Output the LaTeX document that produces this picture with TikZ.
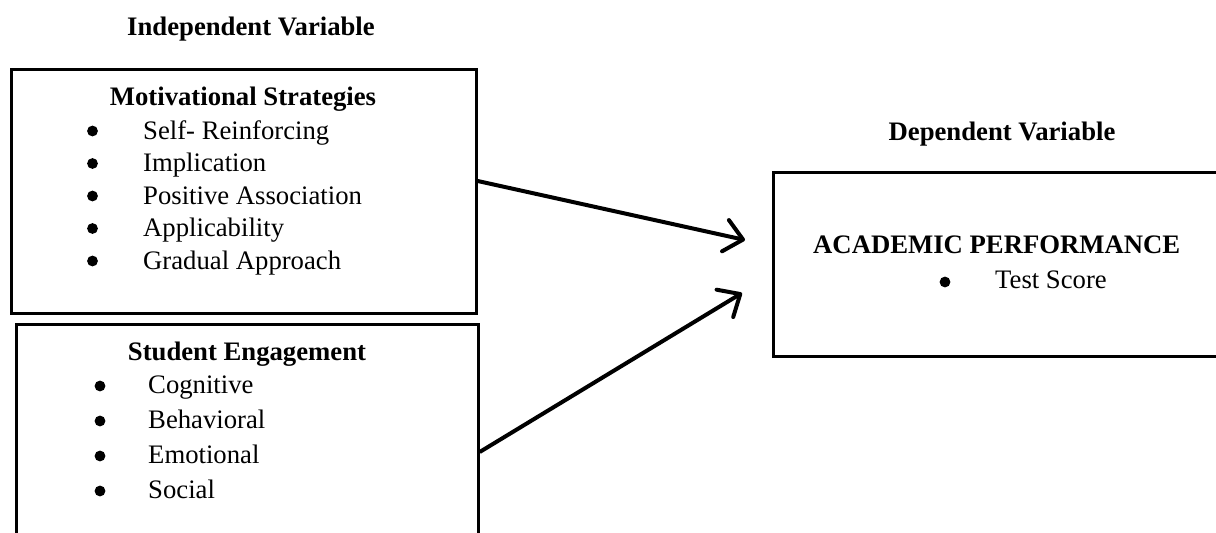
\documentclass[tikz,border=0pt]{standalone}
\usepackage{fontspec}
\setmainfont{Liberation Serif}
\usetikzlibrary{arrows.meta}
\tikzset{
  box/.style={draw, line width=2.7pt, rectangle, anchor=north west, inner sep=0pt},
  txt/.style={inner sep=0pt, font=\fontsize{26.7}{32}\selectfont},
  head/.style={txt, font=\fontsize{26.7}{32}\selectfont\bfseries, anchor=base},
  item/.style={txt, anchor=base west},
  dot/.style={circle, fill=black, inner sep=0pt, minimum size=10.8pt},
  conn/.style={line width=4pt, -{Straight Barb[length=18pt,width=32pt,line cap=round,line join=round]}}
}
\begin{document}
\begin{tikzpicture}[x=1pt,y=-1pt]
\useasboundingbox (0,0) rectangle (1216,533);
% boxes
\node[box, minimum width=465pt, minimum height=244pt] (m) at (10,68) {};
\node[box, minimum width=462pt, minimum height=250pt] (s) at (15,323) {};
\node[box, minimum width=470pt, minimum height=184pt] (d) at (772,171) {};
% titles
\node[head] (iv) at (251,35) {Independent Variable};
\node[head] (dv) at (1002,140) {Dependent Variable};
% motivational strategies
\node[head] (mh) at (243,105) {Motivational Strategies};
\node[dot] (mb1) at (92.5,131) {};
\node[item] (m1) at (143,139) {Self- Reinforcing};
\node[dot] (mb2) at (92.5,163.5) {};
\node[item] (m2) at (143,171.5) {Implication};
\node[dot] (mb3) at (92.5,196) {};
\node[item] (m3) at (143,204) {Positive Association};
\node[dot] (mb4) at (92.5,228.5) {};
\node[item] (m4) at (143,236.5) {Applicability};
\node[dot] (mb5) at (92.5,261) {};
\node[item] (m5) at (143,269) {Gradual Approach};
% student engagement
\node[head] (sh) at (247,360) {Student Engagement};
\node[dot] (sb1) at (100,386) {};
\node[item] (s1) at (148,393) {Cognitive};
\node[dot] (sb2) at (100,421) {};
\node[item] (s2) at (148,428) {Behavioral};
\node[dot] (sb3) at (100,456) {};
\node[item] (s3) at (148,463) {Emotional};
\node[dot] (sb4) at (100,491) {};
\node[item] (s4) at (148,498) {Social};
% academic performance
\node[head, anchor=base west] (ap) at (813,253) {ACADEMIC PERFORMANCE};
\node[dot] (db1) at (945,282) {};
\node[item] (d1) at (995,288) {Test Score};
% connectors
\coordinate (a1s) at ([yshift=-113pt]m.north east);
\coordinate (a2s) at ([yshift=-129pt]s.north east);
\coordinate (a1e) at (745,240);
\coordinate (a2e) at (742,293);
\draw[conn] (a1s) -- (a1e);
\draw[conn] (a2s) -- (a2e);
\end{tikzpicture}
\end{document}
